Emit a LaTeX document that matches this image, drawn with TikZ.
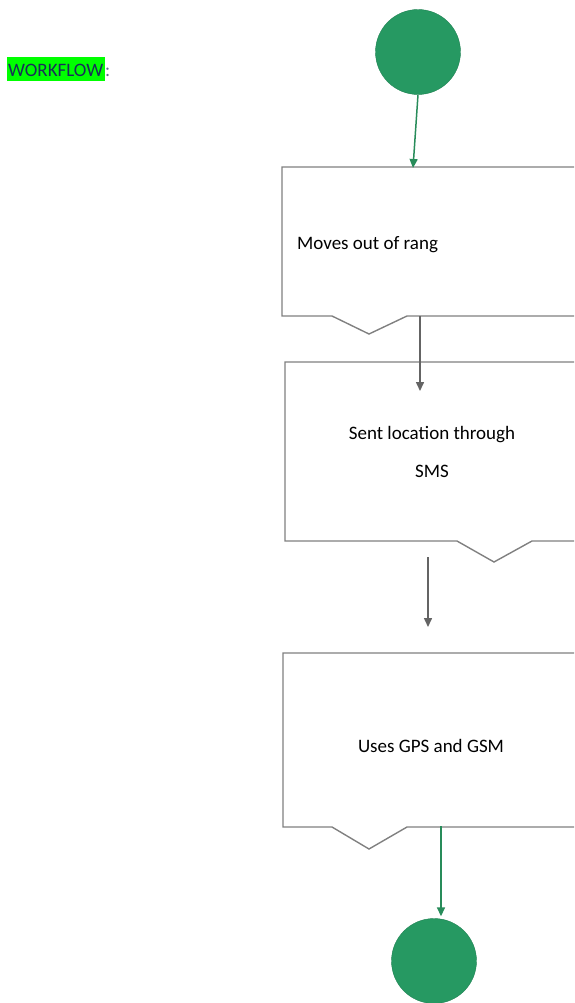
\documentclass[tikz,border=0pt]{standalone}
\usepackage{fontspec}
\setmainfont{Carlito}
\usetikzlibrary{arrows.meta}
\definecolor{termgreen}{RGB}{38,153,98}
\definecolor{arrgreen}{RGB}{40,140,90}
\definecolor{boxgray}{RGB}{128,128,128}
\definecolor{arrgray}{RGB}{100,100,100}
\definecolor{hlgreen}{RGB}{0,255,0}
\definecolor{navy}{RGB}{25,45,90}
\tikzset{
  term/.style={circle, fill=termgreen, draw=termgreen!85!black, line width=0.4pt, minimum size=85pt, inner sep=0pt},
  docbox/.style={draw=boxgray, line width=1.4pt, line join=miter},
  greenarrow/.style={draw=arrgreen, line width=1.5pt, -{Triangle[length=9pt,width=8pt]}},
  grayarrow/.style={draw=arrgray, line width=1.5pt, -{Triangle[length=9pt,width=8pt]}},
  label/.style={font=\fontsize{19}{22}\selectfont, text=black, inner sep=0pt}
}
\begin{document}
\begin{tikzpicture}[x=1pt,y=-1pt]
\useasboundingbox (0,0) rectangle (574,1003);
\clip (0,0) rectangle (574,1003);
% title
\fill[hlgreen] (7,57) rectangle (105,81);
\node[label, text=navy, anchor=base west] (title) at (8,77) {WORKFLOW};
\node[label, text=navy!70, anchor=base west] (colon) at (105,77) {:};
% terminals
\node[term] (start) at (418,52) {};
\node[term] (finish) at (434,961) {};
% document boxes
\draw[docbox] (590,167) -- (282,167) -- (282,316) -- (332,316) -- (369,334) -- (407,316) -- (590,316);
\draw[docbox] (590,362) -- (285,362) -- (285,541) -- (457,541) -- (494,562) -- (532,541) -- (590,541);
\draw[docbox] (590,653) -- (283,653) -- (283,827) -- (332,827) -- (369,849) -- (407,827) -- (590,827);
% texts
\node[label, anchor=base west] (t1) at (297,249) {Moves out of rang};
\node[label, anchor=base] (t2a) at (432,439) {Sent location through};
\node[label, anchor=base] (t2b) at (432,477) {SMS};
\node[label, anchor=base] (t3) at (431,752) {Uses GPS and GSM};
% connector points
\coordinate (b1top) at (413,168);
\coordinate (b1bot) at (420,316);
\coordinate (b2in) at (420,391);
\coordinate (b2below) at (428,557);
\coordinate (b3above) at (428,627);
\coordinate (b3bot) at (441,826);
% connectors
\draw[greenarrow] (start.south) -- (b1top);
\draw[grayarrow] (b1bot) -- (b2in);
\draw[grayarrow] (b2below) -- (b3above);
\draw[greenarrow, shorten >=2pt] (b3bot) -- (b3bot |- finish.north);
\end{tikzpicture}
\end{document}
